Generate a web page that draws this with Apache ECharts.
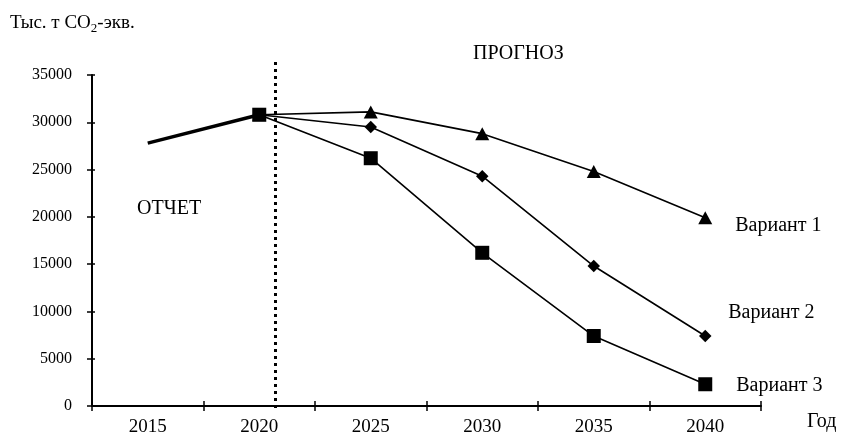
<!DOCTYPE html>
<html><head><meta charset="utf-8">
<script src="https://cdn.jsdelivr.net/npm/echarts@6/dist/echarts.min.js"></script>
<style>html,body{margin:0;padding:0;background:#fff}#c{width:841px;height:437px}</style>
</head><body><div id="c"></div>
<script>
const years = ['2015','2020','2025','2030','2035','2040'];
const reported = [27800, 30800, null, null, null, null];
const variant1 = [null, 30800, 31100, 28800, 24800, 19900];
const variant2 = [null, 30800, 29500, 24300, 14800, 7400];
const variant3 = [null, 30800, 26200, 16200, 7400, 2300];
const yTicks = {min: 0, max: 35000, interval: 5000};
const dividerYear = 2020.7;

const F = 'Liberation Serif, Times New Roman, serif';
const chart = echarts.init(document.getElementById('c'));
const lineBase = {type:'line', xAxisIndex:0, yAxisIndex:0, connectNulls:false, symbolKeepAspect:true,
  itemStyle:{color:'#000'}, lineStyle:{color:'#000', width:1.6}, z:3};
const G = {left:92, right:80, top:75, bottom:29, containLabel:false};
chart.setOption({
  animation:false,
  backgroundColor:'#fff',
  title:{left:10, top:12, padding:0, text:'{a|Тыс. т CO}{s|2}{a|-экв.}',
    textStyle:{rich:{a:{fontFamily:F,fontSize:19,color:'#000',fontWeight:'normal'}, s:{fontFamily:F,fontSize:13,color:'#000',fontWeight:'normal',padding:[10,0,0,0]}}}},
  grid:[G, {left:92,right:80,top:62,bottom:29,containLabel:false}],
  xAxis:[{type:'category', gridIndex:0, data:years, boundaryGap:true,
    axisLine:{lineStyle:{color:'#000',width:2}},
    axisTick:{show:true, interval:0, length:5, lineStyle:{color:'#000',width:1.5}},
    axisLabel:{color:'#000', fontFamily:F, fontSize:19, margin:12},
    splitLine:{show:false}},
   {type:'value', gridIndex:1, min:2012.5, max:2042.5, show:false},
   {type:'category', gridIndex:0, data:years, boundaryGap:true, position:'bottom',
    axisLine:{show:false}, axisLabel:{show:false},
    axisTick:{show:true, inside:true, interval:0, length:5, lineStyle:{color:'#000',width:1.5}}}],
  yAxis:[{type:'value', gridIndex:0, min:yTicks.min, max:yTicks.max, interval:yTicks.interval,
    axisLine:{show:true, lineStyle:{color:'#000',width:2}},
    axisTick:{show:true, length:5, lineStyle:{color:'#000',width:1.5}},
    axisLabel:{color:'#000', fontFamily:F, fontSize:16, margin:20, formatter:v=>String(v)},
    splitLine:{show:false}},
   {type:'value', gridIndex:1, min:0, max:1, show:false},
   {type:'value', gridIndex:0, min:yTicks.min, max:yTicks.max, interval:yTicks.interval, position:'left',
    axisLine:{show:false}, axisLabel:{show:false}, splitLine:{show:false},
    axisTick:{show:true, inside:true, length:3, lineStyle:{color:'#000',width:1.5}}}],
  graphic:[
    {type:'text', left:473, top:44, style:{text:'ПРОГНОЗ', fontFamily:F, fontSize:20, fill:'#000'}},
    {type:'text', left:137, top:199, style:{text:'ОТЧЕТ', fontFamily:F, fontSize:20, fill:'#000'}},
    {type:'text', left:807, top:412, style:{text:'Год', fontFamily:F, fontSize:20, fill:'#000'}}
  ],
  series:[
    Object.assign({}, lineBase, {name:'Отчет', data:reported, showSymbol:false, symbol:'none', lineStyle:{color:'#000',width:3.5}}),
    Object.assign({}, lineBase, {name:'Вариант 1', data:variant1, symbol:'triangle', symbolSize:[14,13],
      endLabel:{show:true, formatter:'{a}', color:'#000', fontFamily:F, fontSize:20, distance:30, offset:[0,8]}}),
    Object.assign({}, lineBase, {name:'Вариант 2', data:variant2, symbol:'diamond', symbolSize:[12.5,12.5],
      endLabel:{show:true, formatter:'{a}', color:'#000', fontFamily:F, fontSize:20, distance:23, offset:[0,-23]}}),
    Object.assign({}, lineBase, {name:'Вариант 3', data:variant3, symbol:'rect', symbolSize:14,
      endLabel:{show:true, formatter:'{a}', color:'#000', fontFamily:F, fontSize:20, distance:31, offset:[0,2]}}),
    {type:'line', xAxisIndex:1, yAxisIndex:1, data:[], silent:true,
      markLine:{symbol:['none','none'], silent:true, label:{show:false},
        lineStyle:{color:'#000', type:[3,4], width:3},
        data:[{xAxis:dividerYear}]}}
  ]
});
</script></body></html>
